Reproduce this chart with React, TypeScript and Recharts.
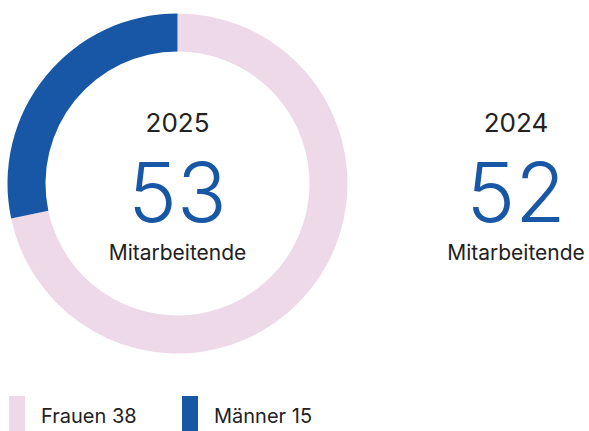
import React from "react";
import { PieChart, Pie, Cell } from "recharts";

const categories = ["Frauen", "Männer"];
const values = [38, 15];
const colors = ["#EDD9E8", "#1757A6"];
const years = ["2025", "2024"];
const totals = [53, 52];
const unitLabel = "Mitarbeitende";

const data = categories.map((name, i) => ({ name, value: values[i] }));

const font = "Inter, 'Noto Sans', sans-serif";

function CenterBlock({ left, year, total }: { left: number; year: string; total: number }) {
  return (
    <div style={{ position: "absolute", left: left - 100, top: 0, width: 200, textAlign: "center", fontFamily: font }}>
      <div style={{ position: "absolute", top: 107, width: 200, fontSize: 26, color: "#222", lineHeight: "32px" }}>{year}</div>
      <div style={{ position: "absolute", top: 145, width: 200, fontSize: 82, fontWeight: 300, color: "#1757A6", lineHeight: "96px" }}>{total}</div>
      <div style={{ position: "absolute", top: 240, width: 200, fontSize: 21, color: "#222", lineHeight: "26px" }}>{unitLabel}</div>
    </div>
  );
}

export default function App() {
  return (
    <div style={{ position: "absolute", left: 0, top: 0, width: 589, height: 431, background: "#fff", overflow: "hidden" }}>
      <PieChart width={589} height={431} margin={{ top: 0, right: 0, bottom: 0, left: 0 }}>
        <Pie
          data={data}
          dataKey="value"
          cx={177.5}
          cy={183.5}
          innerRadius={132}
          outerRadius={170}
          startAngle={90}
          endAngle={-270}
          stroke="none"
          isAnimationActive={false}
        >
          {data.map((d, i) => (
            <Cell key={d.name} fill={colors[i]} />
          ))}
        </Pie>
      </PieChart>
      <CenterBlock left={177.5} year={years[0]} total={totals[0]} />
      <CenterBlock left={516} year={years[1]} total={totals[1]} />
      {data.map((d, i) => (
        <div key={d.name} style={{ position: "absolute", left: i === 0 ? 9 : 182, top: 396, height: 40, display: "flex", alignItems: "flex-start", fontFamily: font }}>
          <div style={{ width: 16, height: 40, background: colors[i] }} />
          <div style={{ marginLeft: 16, marginTop: 7, fontSize: 20, color: "#222", lineHeight: "26px" }}>{`${d.name} ${d.value}`}</div>
        </div>
      ))}
    </div>
  );
}
